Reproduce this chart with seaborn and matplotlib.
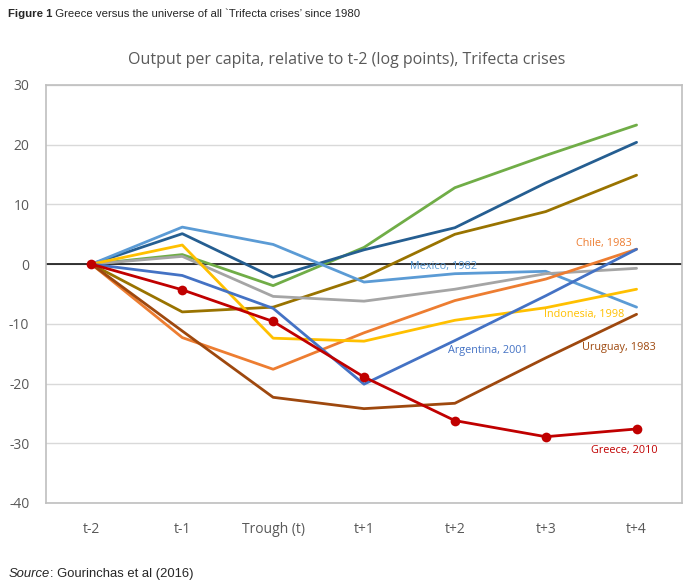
import seaborn as sns
import matplotlib.pyplot as plt
import pandas as pd

# Periods on the x axis
periods = ['t-2', 't-1', 'Trough (t)', 't+1', 't+2', 't+3', 't+4']

# Output per capita relative to t-2 (log points)
green = [0, 1.6, -3.6, 2.8, 12.8, 18.2, 23.3]
dark_blue = [0, 5.1, -2.2, 2.4, 6.1, 13.6, 20.4]
olive = [0, -8.0, -7.2, -2.2, 5.0, 8.8, 14.9]
mexico = [0, 6.2, 3.3, -3.0, -1.6, -1.2, -7.2]
gray = [0, 1.3, -5.4, -6.2, -4.2, -1.6, -0.7]
chile = [0, -12.3, -17.6, -11.5, -6.1, -2.5, 2.5]
indonesia = [0, 3.2, -12.4, -12.9, -9.4, -7.3, -4.2]
argentina = [0, -1.9, -7.4, -20.1, -12.8, -5.3, 2.5]
uruguay = [0, -11.2, -22.3, -24.2, -23.3, -15.7, -8.4]
greece = [0, -4.3, -9.6, -18.9, -26.2, -28.9, -27.6]

series = {
    'green': green, 'dark_blue': dark_blue, 'olive': olive, 'Mexico, 1982': mexico,
    'gray': gray, 'Chile, 1983': chile, 'Indonesia, 1998': indonesia,
    'Argentina, 2001': argentina, 'Uruguay, 1983': uruguay,
}
colors = {
    'green': '#70AD47', 'dark_blue': '#255E91', 'olive': '#997300',
    'Mexico, 1982': '#5B9BD5', 'gray': '#A5A5A5', 'Chile, 1983': '#ED7D31',
    'Indonesia, 1998': '#FFC000', 'Argentina, 2001': '#4472C4',
    'Uruguay, 1983': '#9E480E', 'Greece, 2010': '#C00000',
}

rows = []
for name, vals in series.items():
    for i, v in enumerate(vals):
        rows.append({'crisis': name, 'pos': i, 'value': v})
df = pd.DataFrame(rows)
gr = pd.DataFrame({'pos': range(len(periods)), 'value': greece})

sns.set_style('white')
plt.rcParams['font.family'] = ['Open Sans', 'DejaVu Sans']
plt.rcParams['axes.unicode_minus'] = False

fig = plt.figure(figsize=(6.99, 5.87), dpi=100)
ax = fig.add_axes([46 / 699, 1 - 503 / 587, 636 / 699, 418 / 587])

ax.axhline(0, color='black', lw=1.1, zorder=1)
sns.lineplot(data=df, x='pos', y='value', hue='crisis', palette=colors,
             lw=2, legend=False, ax=ax, zorder=3)
sns.lineplot(data=gr, x='pos', y='value', color=colors['Greece, 2010'], lw=2,
             marker='o', markersize=7, markeredgewidth=0, ax=ax, zorder=4)

ax.set_xlim(-0.5, len(periods) - 0.5)
ax.set_ylim(-40, 30)
ax.set_yticks(range(-40, 31, 10))
ax.set_xticks(range(len(periods)))
ax.set_xticklabels(periods)
ax.set_xlabel('')
ax.set_ylabel('')
ax.yaxis.grid(True, color='#D9D9D9', lw=1)
ax.set_axisbelow(True)
for s in ax.spines.values():
    s.set_color('#BFBFBF')
    s.set_linewidth(1.2)
ax.tick_params(axis='both', length=0, labelsize=10, labelcolor='#595959')
ax.tick_params(axis='x', pad=14)
ax.tick_params(axis='y', pad=12)

# Series labels
labels = [
    ('Mexico, 1982', 3.88, -0.4),
    ('Chile, 1983', 5.64, 3.5),
    ('Indonesia, 1998', 5.42, -8.4),
    ('Argentina, 2001', 4.36, -14.4),
    ('Uruguay, 1983', 5.8, -13.9),
    ('Greece, 2010', 5.86, -31.2),
]
for text, x, y in labels:
    ax.text(x, y, text, color=colors[text], fontsize=7.8, ha='center', va='center')

fig.text(347 / 699, 1 - 60 / 587, 'Output per capita, relative to t-2 (log points), Trifecta crises',
         ha='center', va='center', fontsize=11.5, color='#595959')


def two_part(x, y, first, rest, size, **kw):
    t1 = fig.text(x, y, first, fontsize=size, va='center', family='Liberation Sans', **kw)
    r = fig.canvas.get_renderer()
    bb = t1.get_window_extent(renderer=r)
    fig.text(bb.x1 / fig.bbox.width, y, rest, fontsize=size, va='center',
             family='Liberation Sans')


two_part(8 / 699, 1 - 14 / 587, 'Figure 1',
         ' Greece versus the universe of all `Trifecta crises\u2019 since 1980', 8.2,
         fontweight='bold')
two_part(9 / 699, 1 - 574 / 587, 'Source', ': Gourinchas et al (2016)', 9.4, style='italic')

fig.savefig('out.png', dpi=100)
